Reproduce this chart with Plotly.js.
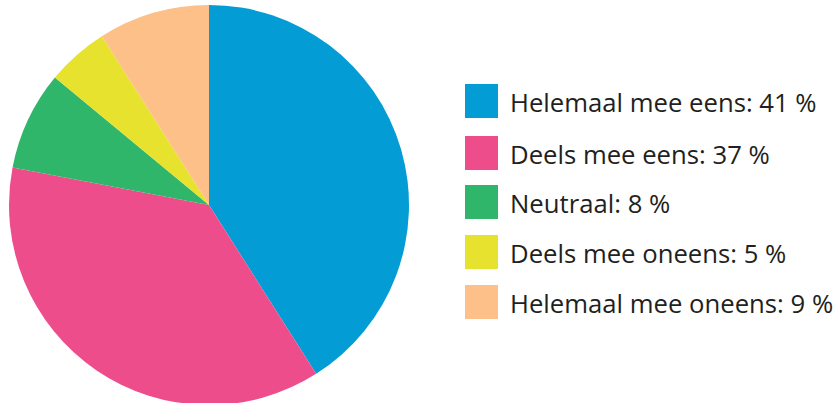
<!DOCTYPE html>
<html>
<head>
<meta charset="utf-8">
<script src="https://cdn.plot.ly/plotly-3.0.1.min.js"></script>
<style>
html,body{margin:0;padding:0;overflow:hidden;background:#fff;}
#chart{width:835px;height:410px;}
</style>
</head>
<body>
<div id="chart"></div>
<script>
const categories = ["Helemaal mee eens", "Deels mee eens", "Neutraal", "Deels mee oneens", "Helemaal mee oneens"];
const values = [41, 37, 8, 5, 9];
const colors = ["#039CD5", "#EE4D8C", "#30B66B", "#E6E22E", "#FCC088"];

const W = 835, H = 410;
const trace = {
  type: "pie",
  labels: categories,
  values: values,
  sort: false,
  direction: "clockwise",
  rotation: 0,
  textinfo: "none",
  hoverinfo: "label+percent",
  marker: {colors: colors, line: {width: 0}},
  domain: {x: [9 / W, 409 / W], y: [0, 1]},
  showlegend: false
};

const shapes = [];
const annotations = [];
const rowY = [101, 153, 202, 252, 302];
categories.forEach((c, i) => {
  const cy = rowY[i];
  shapes.push({
    type: "rect", xref: "paper", yref: "paper",
    x0: 465 / W, x1: 498 / W,
    y0: 1 - (cy - 17) / H, y1: 1 - (cy + 17) / H,
    fillcolor: colors[i], line: {width: 0}
  });
  annotations.push({
    xref: "paper", yref: "paper",
    x: 508 / W, y: 1 - (cy + 1) / H,
    xanchor: "left", yanchor: "middle",
    text: c + ": " + values[i] + " %",
    showarrow: false,
    font: {family: "Open Sans, sans-serif", size: 25.7, color: "#231F20"}
  });
});

Plotly.newPlot("chart", [trace], {
  width: W, height: H,
  margin: {l: 0, r: 0, t: 0, b: 0},
  paper_bgcolor: "#fff",
  shapes: shapes,
  annotations: annotations
}, {displayModeBar: false, staticPlot: true});
</script>
</body>
</html>
